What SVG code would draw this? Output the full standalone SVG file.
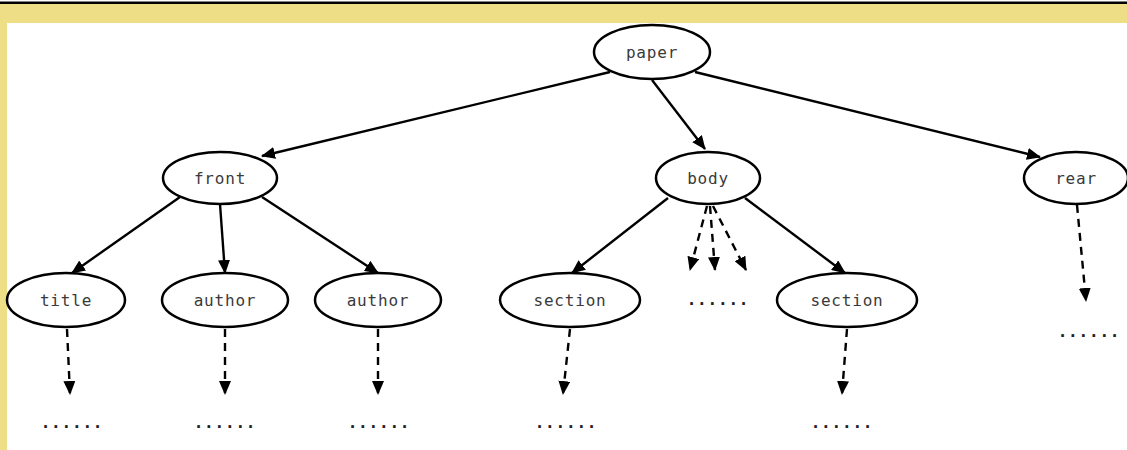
<svg xmlns="http://www.w3.org/2000/svg" width="1127" height="450" viewBox="0 0 1127 450">
<style>
.n ellipse{fill:#fff;stroke:#000;stroke-width:2.5}
text{font-family:"DejaVu Sans Mono","Liberation Mono",monospace;font-size:16px;fill:#3a3a3a;text-anchor:middle;letter-spacing:0.8px}
#dots text{font-weight:bold;fill:#222}
.e line{stroke:#000;stroke-width:2.4;marker-end:url(#ah)}
.e .d{stroke-dasharray:8,6}
</style>
<defs>
<marker id="ah" markerWidth="14" markerHeight="12" refX="13" refY="6" orient="auto" markerUnits="userSpaceOnUse">
<path d="M0,0 L14,6 L0,12 Z" fill="#000"/>
</marker>
</defs>
<rect x="0" y="0" width="1127" height="450" fill="#fff"/>
<rect x="0" y="4" width="1127" height="19" fill="#EEDE85"/>
<rect x="0" y="4" width="7" height="446" fill="#EEDE85"/>
<rect x="0" y="1.5" width="1127" height="2.5" fill="#000"/>
<g class="e">
<line x1="610" y1="72" x2="262" y2="156"/>
<line x1="652" y1="80" x2="705" y2="149"/>
<line x1="695" y1="72" x2="1040" y2="157"/>
<line x1="180" y1="197" x2="72" y2="273"/>
<line x1="220" y1="204" x2="225" y2="273"/>
<line x1="262" y1="197" x2="378" y2="273"/>
<line x1="668" y1="198" x2="572" y2="273"/>
<line x1="745" y1="198" x2="845" y2="273"/>
<line class="d" x1="67" y1="329" x2="70" y2="394"/>
<line class="d" x1="225" y1="329" x2="225" y2="394"/>
<line class="d" x1="378" y1="329" x2="378" y2="394"/>
<line class="d" x1="570" y1="329" x2="563" y2="394"/>
<line class="d" x1="847" y1="329" x2="842" y2="394"/>
<line class="d" x1="1077" y1="205" x2="1086" y2="301"/>
<line class="d" x1="707" y1="206" x2="690" y2="270"/>
<line class="d" x1="710" y1="206" x2="715" y2="270"/>
<line class="d" x1="713" y1="206" x2="746" y2="270"/>
</g>
<g id="paper" class="n"><ellipse cx="652" cy="52" rx="58" ry="27"/><text x="652" y="58">paper</text></g>
<g id="front" class="n"><ellipse cx="220" cy="178" rx="57" ry="26"/><text x="220" y="184">front</text></g>
<g id="body" class="n"><ellipse cx="708" cy="178" rx="52" ry="26"/><text x="708" y="184">body</text></g>
<g id="rear" class="n"><ellipse cx="1076" cy="178" rx="52" ry="26"/><text x="1076" y="184">rear</text></g>
<g id="title" class="n"><ellipse cx="66" cy="300" rx="59" ry="27"/><text x="66" y="306">title</text></g>
<g id="author1" class="n"><ellipse cx="225" cy="300" rx="63" ry="27"/><text x="225" y="306">author</text></g>
<g id="author2" class="n"><ellipse cx="378" cy="300" rx="63" ry="27"/><text x="378" y="306">author</text></g>
<g id="section1" class="n"><ellipse cx="570" cy="300" rx="70" ry="27"/><text x="570" y="306">section</text></g>
<g id="section2" class="n"><ellipse cx="847" cy="300" rx="70" ry="27"/><text x="847" y="306">section</text></g>
<g id="dots">
<text x="72" y="428">......</text>
<text x="225" y="428">......</text>
<text x="379" y="428">......</text>
<text x="566" y="428">......</text>
<text x="842" y="428">......</text>
<text x="718" y="305">......</text>
<text x="1089" y="337">......</text>
</g>
</svg>
